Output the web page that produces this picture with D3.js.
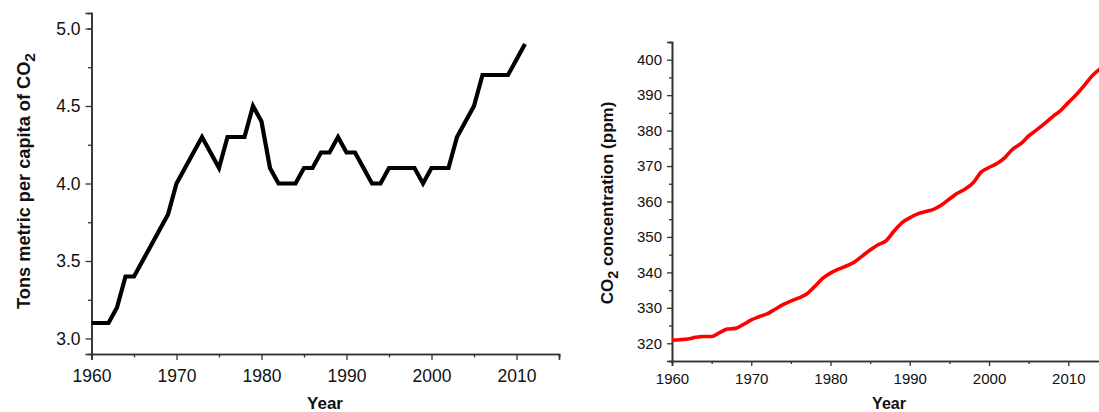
<!DOCTYPE html>
<html>
<head>
<meta charset="utf-8">
<script src="https://cdn.jsdelivr.net/npm/d3@7"></script>
<style>
  html, body { margin: 0; padding: 0; background: #fff; }
  svg { display: block; }
  text { font-family: "Liberation Sans", Arial, sans-serif; fill: #111; }
</style>
</head>
<body>
<svg id="chart" width="1099" height="412"></svg>
<script>
// Per-capita CO2 emissions (metric tons)
const emissionYears = [1960,1961,1962,1963,1964,1965,1966,1967,1968,1969,
  1970,1971,1972,1973,1974,1975,1976,1977,1978,1979,
  1980,1981,1982,1983,1984,1985,1986,1987,1988,1989,
  1990,1991,1992,1993,1994,1995,1996,1997,1998,1999,
  2000,2001,2002,2003,2004,2005,2006,2007,2008,2009,2010,2011];
const emissionValues = [3.1,3.1,3.1,3.2,3.4,3.4,3.5,3.6,3.7,3.8,
  4.0,4.1,4.2,4.3,4.2,4.1,4.3,4.3,4.3,4.5,
  4.4,4.1,4.0,4.0,4.0,4.1,4.1,4.2,4.2,4.3,
  4.2,4.2,4.1,4.0,4.0,4.1,4.1,4.1,4.1,4.0,
  4.1,4.1,4.1,4.3,4.4,4.5,4.7,4.7,4.7,4.7,4.8,4.9];

// Atmospheric CO2 concentration (ppm)
const concYears = [1960,1961,1962,1963,1964,1965,1966,1967,1968,1969,
  1970,1971,1972,1973,1974,1975,1976,1977,1978,1979,
  1980,1981,1982,1983,1984,1985,1986,1987,1988,1989,
  1990,1991,1992,1993,1994,1995,1996,1997,1998,1999,
  2000,2001,2002,2003,2004,2005,2006,2007,2008,2009,
  2010,2011,2012,2013,2014];
const concValues = [320.9,321.0,321.2,321.7,321.9,321.9,323.0,324.0,324.2,325.3,
  326.6,327.5,328.3,329.6,330.9,331.9,332.8,333.9,336.0,338.3,
  339.8,340.9,341.8,342.9,344.6,346.3,347.8,348.9,351.6,354.0,
  355.4,356.5,357.2,357.8,359.0,360.7,362.3,363.5,365.3,368.3,
  369.6,370.7,372.4,374.8,376.3,378.5,380.2,382.0,383.9,385.6,
  387.9,390.1,392.7,395.4,397.4];

// Axis tick values
const emissionTicks = [3.0, 3.5, 4.0, 4.5, 5.0];
const emissionMinorTicks = [3.25, 3.75, 4.25, 4.75, 5.0];
const concTicks = [320, 330, 340, 350, 360, 370, 380, 390, 400];
const concMinorTicks = [315, 325, 335, 345, 355, 365, 375, 385, 395, 405];
const leftYearTicks = [1960, 1970, 1980, 1990, 2000, 2010];
const leftYearMinor = [1965, 1975, 1985, 1995, 2005, 2015];
const rightYearTicks = [1960, 1970, 1980, 1990, 2000, 2010];
const rightYearMinor = [1965, 1975, 1985, 1995, 2005];

const svg = d3.select("#chart");
const axisColor = "#333";

function drawPanel(cfg) {
  const g = svg.append("g");
  const x = d3.scaleLinear().domain(cfg.xDomain).range(cfg.xRange);
  const y = d3.scaleLinear().domain(cfg.yDomain).range(cfg.yRange);

  // minor ticks
  const xMinor = g.append("g").attr("transform", `translate(0,${cfg.yRange[0]})`)
    .call(d3.axisBottom(x).tickValues(cfg.xMinor).tickSize(cfg.minorLen).tickFormat(""));
  const yMinor = g.append("g").attr("transform", `translate(${cfg.xRange[0]},0)`)
    .call(d3.axisLeft(y).tickValues(cfg.yMinor).tickSize(cfg.minorLen).tickFormat(""));

  // major ticks with labels
  const xAxis = g.append("g").attr("transform", `translate(0,${cfg.yRange[0]})`)
    .call(d3.axisBottom(x).tickValues(cfg.xTicks).tickSize(cfg.majorLen).tickPadding(cfg.xPad).tickFormat(d3.format("d")));
  const yAxis = g.append("g").attr("transform", `translate(${cfg.xRange[0]},0)`)
    .call(d3.axisLeft(y).tickValues(cfg.yTicks).tickSize(cfg.majorLen).tickPadding(cfg.yPad).tickFormat(d3.format(cfg.yFormat)));

  [xMinor, yMinor, xAxis, yAxis].forEach(a => {
    a.select(".domain").attr("stroke", axisColor).attr("stroke-width", 1.6);
    a.selectAll(".tick line").attr("stroke", axisColor).attr("stroke-width", 1.3);
    a.selectAll(".tick text").attr("font-family", "Liberation Sans, Arial, sans-serif")
      .attr("font-size", cfg.tickFont).attr("fill", "#111");
  });

  // data line
  const line = d3.line()
    .x((d, i) => x(cfg.xs[i]))
    .y(d => y(d))
    .curve(cfg.curve);
  g.append("path")
    .datum(cfg.values)
    .attr("fill", "none")
    .attr("stroke", cfg.color)
    .attr("stroke-width", cfg.lineWidth)
    .attr("stroke-linejoin", "miter")
    .attr("stroke-linecap", "butt")
    .attr("d", line);

  // x-axis title
  g.append("text")
    .attr("x", cfg.xTitlePos[0]).attr("y", cfg.xTitlePos[1])
    .attr("text-anchor", "middle")
    .attr("font-weight", "bold")
    .attr("font-size", cfg.xTitleFont)
    .text("Year");

  // y-axis title with subscript
  const t = g.append("text")
    .attr("transform", `translate(${cfg.yTitlePos[0]},${cfg.yTitlePos[1]}) rotate(-90)`)
    .attr("text-anchor", "middle")
    .attr("font-weight", "bold")
    .attr("font-size", cfg.titleFont);
  cfg.yTitle.forEach(part => {
    const s = t.append("tspan").text(part.text);
    if (part.sub) {
      s.attr("font-size", cfg.titleFont * 0.85).attr("dy", cfg.titleFont * 0.3);
    } else if (part.after) {
      s.attr("dy", -cfg.titleFont * 0.3);
    }
  });
}

drawPanel({
  xDomain: [1960, 2015], xRange: [91.5, 559],
  yDomain: [2.9, 5.1], yRange: [354, 13],
  xTicks: leftYearTicks, xMinor: leftYearMinor,
  yTicks: emissionTicks, yMinor: emissionMinorTicks,
  yFormat: ".1f",
  majorLen: 6, minorLen: 3.5, xPad: 10, yPad: 5,
  tickFont: 17.5, titleFont: 18.2, xTitleFont: 17,
  xs: emissionYears, values: emissionValues,
  color: "#000", lineWidth: 4.2, curve: d3.curveLinear,
  xTitlePos: [325, 409],
  yTitlePos: [30, 181],
  yTitle: [{text: "Tons metric per capita of CO"}, {text: "2", sub: true}]
});

drawPanel({
  xDomain: [1960, 2014], xRange: [672, 1100],
  yDomain: [315, 405], yRange: [361, 42],
  xTicks: rightYearTicks, xMinor: rightYearMinor,
  yTicks: concTicks, yMinor: concMinorTicks,
  yFormat: "d",
  majorLen: 5, minorLen: 3, xPad: 7, yPad: 5,
  tickFont: 15, titleFont: 17, xTitleFont: 16,
  xs: concYears, values: concValues,
  color: "#ff0000", lineWidth: 3.6, curve: d3.curveMonotoneX,
  xTitlePos: [889, 409],
  yTitlePos: [613, 203],
  yTitle: [{text: "CO"}, {text: "2", sub: true}, {text: " concentration (ppm)", after: true}]
});
</script>
</body>
</html>
